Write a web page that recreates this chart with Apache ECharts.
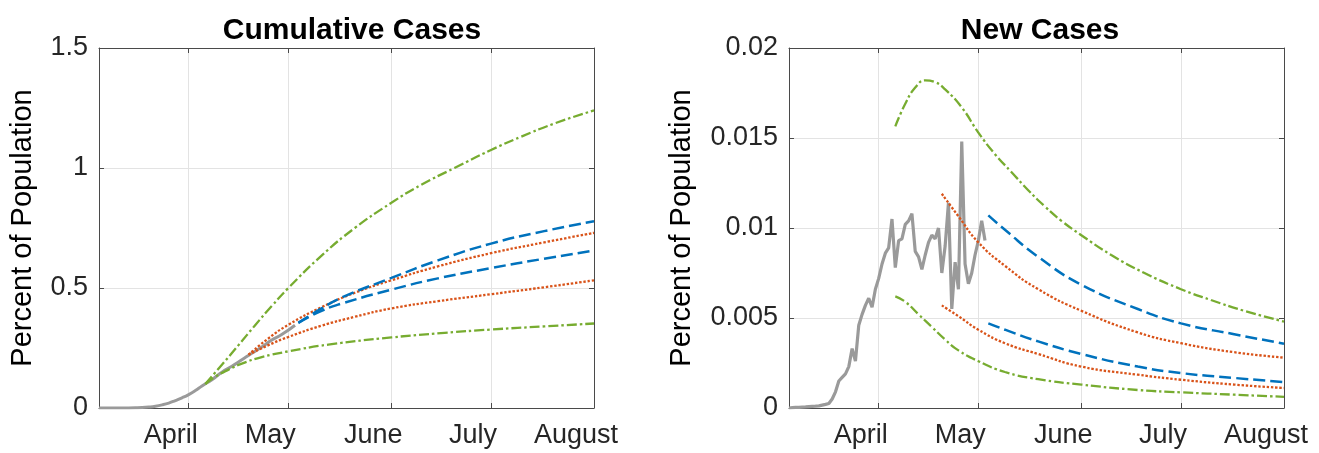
<!DOCTYPE html>
<html>
<head>
<meta charset="utf-8">
<script src="https://cdn.jsdelivr.net/npm/echarts@6/dist/echarts.min.js"></script>
<style>
html,body{margin:0;padding:0;background:#fff;}
#chart{width:1319px;height:453px;}
</style>
</head>
<body>
<div id="chart"></div>
<script>
// ---------- axis ticks / labels ----------
const monthTicks = ['2020-04-01','2020-05-01','2020-06-01','2020-07-01','2020-08-01'];
const monthLabels = ['April','May','June','July','August'];
const xMinDate = '2020-03-05', xMaxDate = '2020-08-01';
const titles = ['Cumulative Cases','New Cases'];
const yName = 'Percent of Population';

// ---------- observed data (grey) ----------
const obsDailyStart = '2020-03-05';
const obsDaily = [
  0, 0.00002, 0.00003, 0.00004, 0.00005, 0.00006, 0.00008, 0.00009, 0.0001, 0.00012, 0.00016, 0.0002, 0.00025, 0.0005,
  0.0009, 0.0015, 0.0017, 0.0019, 0.0023, 0.0033, 0.0026, 0.0046, 0.0052, 0.0057, 0.0061, 0.0056, 0.0066,
  0.0072, 0.0080, 0.0086, 0.0089, 0.0105, 0.0078, 0.0093, 0.0094, 0.0102, 0.0104, 0.0108, 0.0087, 0.0084, 0.0077,
  0.0085, 0.0092, 0.0096, 0.0094, 0.0100, 0.0075, 0.0090, 0.0114, 0.0055, 0.0081, 0.0066, 0.0148, 0.0080, 0.0069,
  0.0075, 0.0085, 0.0093, 0.0104, 0.0093
];
const obsCumDates = ['2020-03-05','2020-03-09','2020-03-13','2020-03-16','2020-03-18','2020-03-20','2020-03-22','2020-03-24',
  '2020-03-26','2020-03-28','2020-03-30','2020-04-01','2020-04-03','2020-04-05','2020-04-08','2020-04-11','2020-04-14',
  '2020-04-17','2020-04-20','2020-04-23','2020-04-26','2020-04-29','2020-05-03'];
const obsCum = [0, 0.0001, 0.0004, 0.0009, 0.0018, 0.004, 0.0075, 0.013, 0.0205, 0.031, 0.0425, 0.056, 0.0725, 0.092,
  0.118, 0.149, 0.174, 0.201, 0.228, 0.254, 0.283, 0.306, 0.345];

// ---------- cumulative projections ----------
const cumGreenHiDates = ['2020-04-06','2020-04-11','2020-04-16','2020-04-21','2020-04-26','2020-05-01','2020-05-11','2020-05-21',
  '2020-06-01','2020-06-10','2020-06-20','2020-07-01','2020-07-10','2020-07-20','2020-08-01'];
const cumGreenHi = [0.1, 0.18, 0.262, 0.345, 0.425, 0.5, 0.635, 0.75, 0.855, 0.93, 1.0, 1.075, 1.13, 1.185, 1.24];
const cumGreenLoDates = ['2020-04-06','2020-04-09','2020-04-13','2020-04-17','2020-04-23','2020-05-01','2020-05-13',
  '2020-06-01','2020-06-17','2020-07-01','2020-07-17','2020-08-01'];
const cumGreenLo = [0.1, 0.13, 0.16, 0.185, 0.212, 0.236, 0.264, 0.294, 0.313, 0.327, 0.34, 0.352];
const cumOrangeDates = ['2020-04-19','2020-04-25','2020-05-01','2020-05-11','2020-05-21','2020-06-01','2020-06-15',
  '2020-07-01','2020-07-17','2020-08-01'];
const cumOrangeHi = [0.222, 0.29, 0.347, 0.42, 0.48, 0.532, 0.59, 0.645, 0.69, 0.73];
const cumOrangeLo = [0.222, 0.262, 0.296, 0.343, 0.38, 0.415, 0.445, 0.474, 0.503, 0.532];
const cumBlueDates = ['2020-05-04','2020-05-11','2020-05-17','2020-06-01','2020-06-15','2020-07-01','2020-07-17','2020-08-01'];
const cumBlueHi = [0.355, 0.415, 0.46, 0.542, 0.615, 0.685, 0.737, 0.778];
const cumBlueLo = [0.355, 0.405, 0.435, 0.493, 0.54, 0.583, 0.622, 0.656];

// ---------- daily new-case projections ----------
const newGreenHiDates = ['2020-04-06','2020-04-09','2020-04-12','2020-04-15','2020-04-18','2020-04-21','2020-04-26','2020-05-01',
  '2020-05-06','2020-05-11','2020-05-16','2020-05-21','2020-05-26','2020-06-01','2020-06-10','2020-06-20','2020-07-01',
  '2020-07-10','2020-07-20','2020-08-01'];
const newGreenHi = [0.01565, 0.0169, 0.0178, 0.0182, 0.0181, 0.0177, 0.0167, 0.0153, 0.0141, 0.0131, 0.0121, 0.0112,
  0.0104, 0.0096, 0.0085, 0.0075, 0.0066, 0.006, 0.0054, 0.0048];
const newGreenLoDates = ['2020-04-06','2020-04-09','2020-04-13','2020-04-17','2020-04-21','2020-04-25','2020-05-01',
  '2020-05-09','2020-05-19','2020-06-01','2020-06-18','2020-07-01','2020-07-17','2020-08-01'];
const newGreenLo = [0.0062, 0.0059, 0.0052, 0.0045, 0.0038, 0.0032, 0.0026, 0.002, 0.0016, 0.0013, 0.001, 0.00087, 0.00074, 0.00062];
const newOrangeDates = ['2020-04-20','2020-04-25','2020-05-01','2020-05-09','2020-05-19','2020-06-01','2020-06-18',
  '2020-07-01','2020-07-17','2020-08-01'];
const newOrangeHi = [0.0119, 0.01065, 0.0092, 0.0079, 0.0066, 0.0054, 0.0042, 0.0036, 0.0031, 0.0028];
const newOrangeLo = [0.0057, 0.0051, 0.00435, 0.0036, 0.003, 0.0023, 0.00185, 0.00157, 0.0013, 0.00111];
const newBlueDates = ['2020-05-04','2020-05-09','2020-05-19','2020-06-01','2020-06-18','2020-07-01','2020-07-17','2020-08-01'];
const newBlueHi = [0.0107, 0.0099, 0.0084, 0.00685, 0.0055, 0.0047, 0.0041, 0.00357];
const newBlueLo = [0.0047, 0.00435, 0.0037, 0.003, 0.0023, 0.00194, 0.00167, 0.00144];

// ---------- styling ----------
const FONT = '"Liberation Sans", Arial, Helvetica, sans-serif';
const C_GREEN = '#77AC30', C_BLUE = '#0072BD', C_ORANGE = '#D95319', C_GRAY = '#9a9a9a';
const AX = '#4a4a4a', GRIDC = '#e3e3e3', TXT = '#262626';

function ts(s) { return Date.UTC(+s.slice(0, 4), +s.slice(5, 7) - 1, +s.slice(8, 10)); }
function pairs(dates, vals) { return dates.map((d, i) => [ts(d), vals[i]]); }
function dailyPairs(start, vals) { const s = ts(start); return vals.map((v, i) => [s + i * 86400000, v]); }
const tickNums = monthTicks.map(ts);
function monthFmt(v) {
  const i = tickNums.indexOf(v);
  return i >= 0 ? monthLabels[i] : '';
}

const grids = [
  { left: 99, top: 48, width: 495, height: 360 },
  { left: 789, top: 48, width: 495, height: 360 }
];

const xAxes = [], yAxes = [];
[0, 1].forEach(g => {
  xAxes.push({
    type: 'value', gridIndex: g, min: ts(xMinDate), max: ts(xMaxDate), position: 'bottom',
    axisLine: { show: true, onZero: false, lineStyle: { color: AX, width: 1 } },
    axisTick: { show: true, inside: true, length: 5, customValues: tickNums, lineStyle: { color: AX } },
    axisLabel: { show: true, customValues: tickNums, formatter: monthFmt, fontSize: 27, fontFamily: FONT,
      color: TXT, margin: 14, padding: [0, 36, 0, 0] },
    splitLine: { show: true, lineStyle: { color: GRIDC, width: 1 } }
  });
  xAxes.push({
    type: 'value', gridIndex: g, min: ts(xMinDate), max: ts(xMaxDate), position: 'top',
    axisLine: { show: true, onZero: false, lineStyle: { color: AX, width: 1 } },
    axisTick: { show: true, inside: true, length: 5, customValues: tickNums, lineStyle: { color: AX } },
    axisLabel: { show: false }, splitLine: { show: false }
  });
});
const yCfg = [
  { max: 1.5, interval: 0.5, nameGap: 62 },
  { max: 0.02, interval: 0.005, nameGap: 93 }
];
[0, 1].forEach(g => {
  yAxes.push({
    type: 'value', gridIndex: g, min: 0, max: yCfg[g].max, interval: yCfg[g].interval, position: 'left',
    name: yName, nameLocation: 'middle', nameGap: yCfg[g].nameGap, nameRotate: 90,
    nameTextStyle: { fontSize: 29, fontFamily: FONT, color: '#000' },
    axisLine: { show: true, onZero: false, lineStyle: { color: AX, width: 1 } },
    axisTick: { show: true, inside: true, length: 5, lineStyle: { color: AX } },
    axisLabel: { fontSize: 27, fontFamily: FONT, color: TXT, margin: 11 },
    splitLine: { show: true, lineStyle: { color: GRIDC, width: 1 } }
  });
  yAxes.push({
    type: 'value', gridIndex: g, min: 0, max: yCfg[g].max, interval: yCfg[g].interval, position: 'right',
    axisLine: { show: true, onZero: false, lineStyle: { color: AX, width: 1 } },
    axisTick: { show: true, inside: true, length: 5, lineStyle: { color: AX } },
    axisLabel: { show: false }, splitLine: { show: false }
  });
});

const DASH = [12, 5], DOT = [2.4, 1.8], DASHDOT = [10, 3, 2.5, 3];
function line(g, data, color, type, width, smooth) {
  return {
    type: 'line', xAxisIndex: g * 2, yAxisIndex: g * 2, data: data, showSymbol: false, symbol: 'none',
    smooth: smooth ? 0.5 : false, animation: false, silent: true,
    lineStyle: { color: color, width: width, type: type, cap: 'butt' }, z: 3
  };
}

const series = [
  line(0, pairs(obsCumDates, obsCum), C_GRAY, 'solid', 3, true),
  line(0, pairs(cumGreenHiDates, cumGreenHi), C_GREEN, DASHDOT, 2.3, true),
  line(0, pairs(cumGreenLoDates, cumGreenLo), C_GREEN, DASHDOT, 2.3, true),
  line(0, pairs(cumOrangeDates, cumOrangeHi), C_ORANGE, DOT, 2.3, true),
  line(0, pairs(cumOrangeDates, cumOrangeLo), C_ORANGE, DOT, 2.3, true),
  line(0, pairs(cumBlueDates, cumBlueHi), C_BLUE, DASH, 2.5, true),
  line(0, pairs(cumBlueDates, cumBlueLo), C_BLUE, DASH, 2.5, true),

  line(1, dailyPairs(obsDailyStart, obsDaily), C_GRAY, 'solid', 3.2, false),
  line(1, pairs(newGreenHiDates, newGreenHi), C_GREEN, DASHDOT, 2.3, true),
  line(1, pairs(newGreenLoDates, newGreenLo), C_GREEN, DASHDOT, 2.3, true),
  line(1, pairs(newOrangeDates, newOrangeHi), C_ORANGE, DOT, 2.3, true),
  line(1, pairs(newOrangeDates, newOrangeLo), C_ORANGE, DOT, 2.3, true),
  line(1, pairs(newBlueDates, newBlueHi), C_BLUE, DASH, 2.5, true),
  line(1, pairs(newBlueDates, newBlueLo), C_BLUE, DASH, 2.5, true)
];

const chart = echarts.init(document.getElementById('chart'), null, { renderer: 'canvas' });
chart.setOption({
  animation: false,
  backgroundColor: '#fff',
  title: [
    { text: titles[0], left: 347, top: 11, textAlign: 'center',
      textStyle: { fontSize: 30, fontWeight: 'bold', fontFamily: FONT, color: '#000' } },
    { text: titles[1], left: 1035, top: 11, textAlign: 'center',
      textStyle: { fontSize: 30, fontWeight: 'bold', fontFamily: FONT, color: '#000' } }
  ],
  grid: grids,
  xAxis: xAxes,
  yAxis: yAxes,
  series: series
});
</script>
</body>
</html>
